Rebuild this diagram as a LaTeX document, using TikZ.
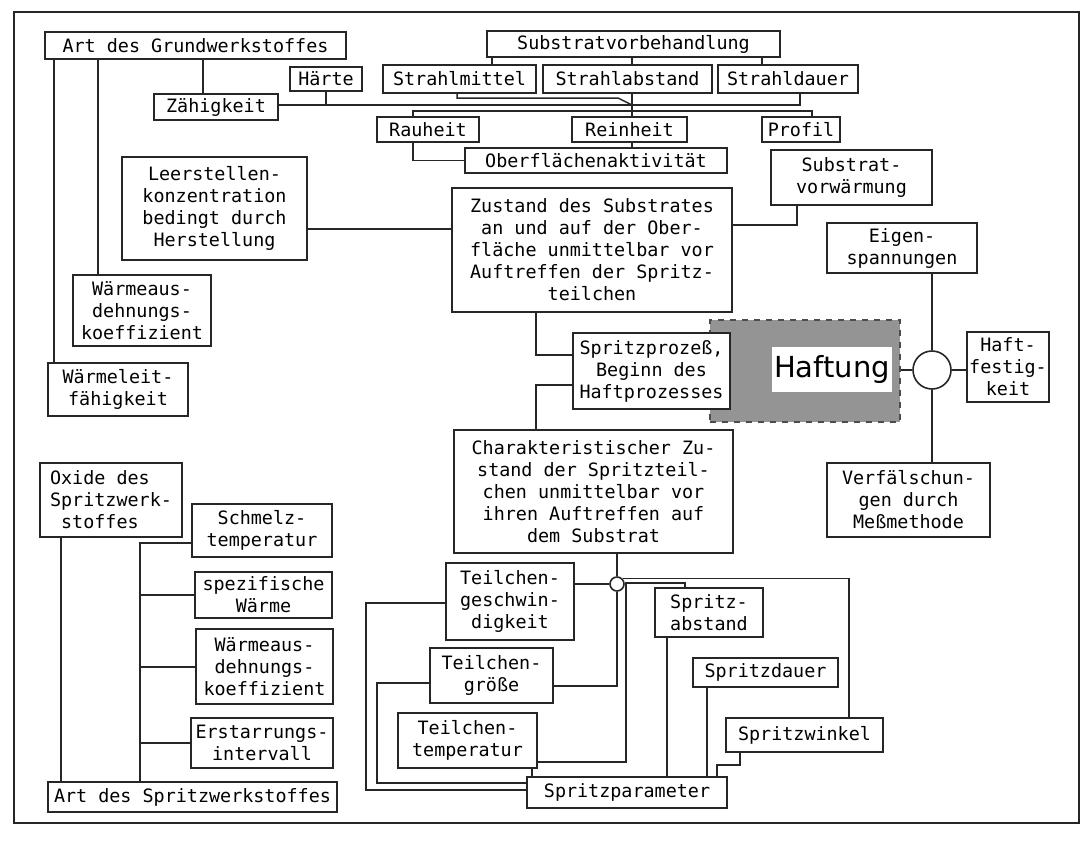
\documentclass[tikz,border=0pt]{standalone}
\usepackage{fontspec}
\newfontfamily\kastenfont{DejaVu Sans Mono}
\newfontfamily\haftfont{DejaVu Sans}

% Kasten von (x1,y1) bis (x2,y2), Maße in Bildpunkten
\newcommand\feld[7][]{%
  \node[kasten, #1, minimum width={(#5-#3)*0.5pt}, minimum height={(#6-#4)*0.5pt}]
    (#2) at ({(#3+#5)/2},{(#4+#6)/2}) {#7};}

\begin{document}
\begin{tikzpicture}[x=0.5pt, y=-0.5pt,
    kasten/.style={draw=black!85, line width=0.8pt, inner sep=0pt, align=center, fill=white,
      font=\kastenfont\fontsize{9.2}{11}\selectfont},
    linie/.style={draw=black!85, line width=0.75pt}]
  \useasboundingbox (0,0) rectangle (1091,841);
  \draw[linie] (14,12) rectangle (1079,823);

  % Grundwerkstoff und Substratvorbehandlung
  \feld{grund}{45}{32}{346}{59}{Art des Grundwerkstoffes}
  \feld{haerte}{290}{67}{362}{91}{Härte}
  \feld{zaeh}{154}{94}{278}{120}{Zähigkeit}
  \feld{vorb}{487}{31}{780}{57}{Substratvorbehandlung}
  \feld{mittel}{383}{65}{536}{93}{Strahlmittel}
  \feld{strabst}{543}{65}{712}{93}{Strahlabstand}
  \feld{dauer}{718}{65}{858}{93}{Strahldauer}
  \feld{rauheit}{377}{117}{479}{142}{Rauheit}
  \feld{reinheit}{572}{117}{687}{142}{Reinheit}
  \feld{profil}{762}{117}{840}{142}{Profil}
  \feld{aktiv}{465}{148}{727}{173}{Oberflächenaktivität}
  \feld{vorw}{771}{150}{932}{205}{Substrat-\\vorwärmung}
  \feld{leer}{122}{157}{307}{260}{Leerstellen-\\konzentration\\bedingt durch\\Herstellung}
  \feld{zustand}{452}{188}{732}{312}{Zustand des Substrates\\an und auf der Ober-\\fläche unmittelbar vor\\Auftreffen der Spritz-\\teilchen}
  \feld{waus}{73}{275}{211}{346}{Wärmeaus-\\dehnungs-\\koeffizient}
  \feld{leit}{48}{363}{188}{416}{Wärmeleit-\\fähigkeit}

  % Haftung
  \feld[fill=black!42, draw=black!70, dashed, line width=0.6pt]{grau}{710}{320}{900}{422}{}
  \feld[fill=white, draw=none, font=\haftfont\fontsize{14.5}{16}\selectfont]{haftung}{772}{347}{892}{392}{Haftung}
  \feld{prozess}{573}{333}{730}{409}{Spritzprozeß,\\Beginn des\\Haftprozesses}
  \node[draw=black!85, line width=0.8pt, circle, inner sep=0pt, minimum size=19pt, fill=white] (ring) at (932,370) {};
  \feld{eigen}{827}{223}{977}{273}{Eigen-\\spannungen}
  \feld{haftfest}{967}{332}{1049}{402}{Haft-\\festig-\\keit}
  \feld{verf}{827}{463}{990}{537}{Verfälschun-\\gen durch\\Meßmethode}

  % Spritzteilchen und Spritzparameter
  \feld{charakt}{454}{430}{733}{553}{Charakteristischer Zu-\\stand der Spritzteil-\\chen unmittelbar vor\\ihren Auftreffen auf\\dem Substrat}
  \node[draw=black!85, line width=0.8pt, circle, inner sep=0pt, minimum size=7pt, fill=white] (kn) at (617,584) {};
  \feld{geschw}{446}{563}{574}{640}{Teilchen-\\geschwin-\\digkeit}
  \feld{groesse}{430}{648}{553}{703}{Teilchen-\\größe}
  \feld{temp}{398}{713}{537}{768}{Teilchen-\\temperatur}
  \feld{sabst}{655}{588}{763}{637}{Spritz-\\abstand}
  \feld{sdauer}{693}{658}{838}{687}{Spritzdauer}
  \feld{swink}{726}{718}{883}{752}{Spritzwinkel}
  \feld{sparam}{527}{777}{727}{808}{Spritzparameter}

  % Spritzwerkstoff
  \feld[align=left]{oxid}{40}{463}{182}{537}{Oxide des\\Spritzwerk-\\\ stoffes}
  \feld{schmelz}{192}{504}{332}{557}{Schmelz-\\temperatur}
  \feld{spez}{195}{572}{332}{618}{spezifische\\Wärme}
  \feld{waus2}{196}{629}{333}{704}{Wärmeaus-\\dehnungs-\\koeffizient}
  \feld{erst}{191}{718}{333}{768}{Erstarrungs-\\intervall}
  \feld{artspr}{48}{782}{337}{812}{Art des Spritzwerkstoffes}

  \coordinate (jct) at (632,105);

  \draw[linie] (grund.south -| 54,0) -- (leit.north -| 54,0);
  \draw[linie] (grund.south -| 98,0) -- (waus.north -| 98,0);
  \draw[linie] (grund.south -| 203,0) -- (zaeh.north -| 203,0);
  \draw[linie] (zaeh.east |- jct) -| (dauer.south -| 800,0);
  \draw[linie] (haerte.south) -- (haerte.south |- jct);
  \draw[linie] (mittel.south -| 457,0) |- (618,98) -- (jct);
  \draw[linie] (strabst.south -| jct) -- (jct) -- (jct |- reinheit.north);
  \draw[linie] (rauheit.north -| 413,0) |- (812,111) -- (profil.north -| 812,0);
  \draw[linie] (vorb.south -| 492,0) -- (mittel.north -| 492,0);
  \draw[linie] (vorb.south -| 632,0) -- (strabst.north -| 632,0);
  \draw[linie] (vorb.south -| 762,0) -- (dauer.north -| 762,0);
  \draw[linie] (rauheit.south -| 413,0) |- (aktiv.west);
  \draw[linie] (reinheit.south -| 632,0) -- (aktiv.north -| 632,0);
  \draw[linie] (vorw.south -| 797,0) |- (zustand.east |- 0,225);
  \draw[linie] (leer.east |- 0,229) -- (zustand.west |- 0,229);
  \draw[linie] (zustand.south -| 536,0) |- (prozess.west |- 0,355);
  \draw[linie] (prozess.west |- 0,385) -| (charakt.north -| 536,0);

  \draw[linie] (grau.east |- ring) -- (ring.west);
  \draw[linie] (ring.east) -- (ring.east -| haftfest.west);
  \draw[linie] (ring.north |- eigen.south) -- (ring.north);
  \draw[linie] (ring.south) -- (ring.south |- verf.north);

  \draw[linie] (charakt.south -| kn) -- (kn.north);
  \draw[linie] (geschw.east |- kn) -- (kn.west);
  \draw[linie] (groesse.east |- 0,686) -| (kn.south);
  \draw[linie] (temp.east |- 0,762) -| (626,583) -| (sabst.north -| 685,0);
  \draw[linie] (kn.north east) -| (swink.north -| 849,0);
  \draw[linie] (sabst.south -| 667,0) -- (sparam.north -| 667,0);
  \draw[linie] (sdauer.south -| 707,0) -- (sparam.north -| 707,0);
  \draw[linie] (swink.south -| 740,0) |- (717,765) -- (sparam.north -| 717,0);
  \draw[linie] (temp.south -| 532,0) -- (sparam.north -| 532,0);
  \draw[linie] (geschw.west |- 0,603) -| (366,790) -- (sparam.west |- 0,790);
  \draw[linie] (groesse.west |- 0,683) -| (377,783) -- (sparam.west |- 0,783);

  \draw[linie] (oxid.south -| 61,0) -- (artspr.north -| 61,0);
  \draw[linie] (schmelz.west |- 0,543) -| (artspr.north -| 140,0);
  \draw[linie] (spez.west) -- (spez.west -| 140,0);
  \draw[linie] (waus2.west |- 0,667) -- (140,667);
  \draw[linie] (erst.west) -- (erst.west -| 140,0);
\end{tikzpicture}
\end{document}
